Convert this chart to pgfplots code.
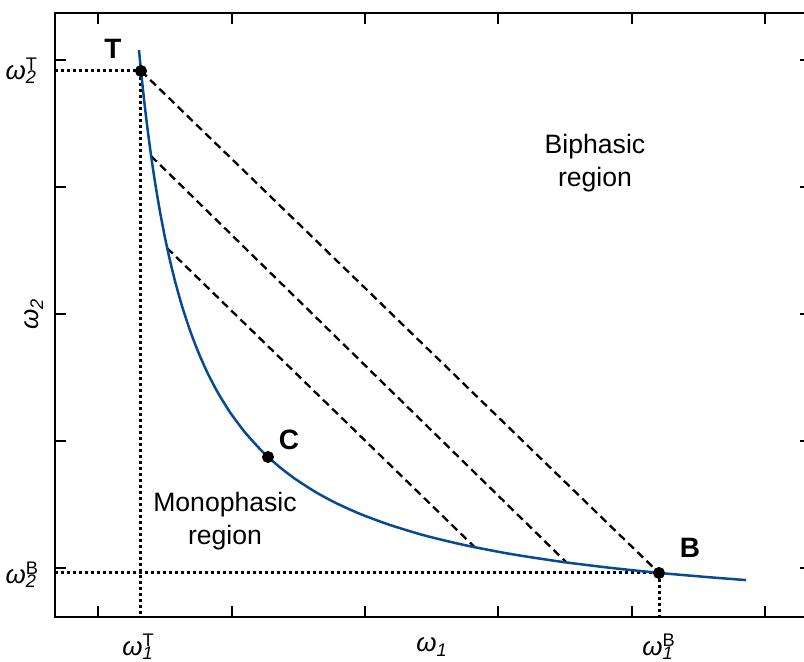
\documentclass[border=0pt]{standalone}
\usepackage{fontspec}
\setmainfont{Liberation Sans}
\usepackage{pgfplots}
\pgfplotsset{compat=1.18}
\definecolor{curveblue}{RGB}{8,74,146}
\newcommand{\om}[2]{\textit{ω}\rlap{\textsuperscript{#2}}\textsubscript{\textit{#1}}}
\begin{document}
\begin{tikzpicture}
\begin{axis}[
  x=0.5pt, y=0.5pt,
  xmin=0, xmax=756, ymin=0, ymax=604,
  axis line style={line width=1.2pt},
  xtick={43,177,310,443,577,710},
  ytick={49,176,303,430,557},
  xticklabels={}, yticklabels={},
  tick style={black, line width=1.1pt},
  major tick length=5.5pt,
  tick align=inside,
  clip=false,
  font=\fontsize{13}{15}\selectfont,
]
% dotted guides
\addplot[black, line width=1.5pt, dash pattern=on 1.4pt off 1.6pt] coordinates {(0,546) (86,546)};
\addplot[black, line width=1.5pt, dash pattern=on 1.4pt off 1.6pt] coordinates {(86,546) (86,0)};
\addplot[black, line width=1.5pt, dash pattern=on 1.4pt off 1.6pt] coordinates {(0,44) (604,44)};
\addplot[black, line width=1.5pt, dash pattern=on 1.4pt off 1.6pt] coordinates {(604,44) (604,0)};
% tie lines
\addplot[black, line width=1.15pt, dash pattern=on 4pt off 2.4pt] coordinates {(86,546) (604,44)};
\addplot[black, line width=1.15pt, dash pattern=on 4pt off 2.4pt] coordinates {(96,461) (511,55)};
\addplot[black, line width=1.15pt, dash pattern=on 4pt off 2.4pt] coordinates {(112,369) (420,69.5)};
% binodal curve
\addplot[curveblue, line width=1.25pt, smooth, tension=0.4] coordinates {
(84,567) (86,546.2) (89,517.9) (92,492.4) (96,461.9) (100,434.9) (105,405.3)
(110,379.3) (115,356.4) (120,336.0) (127,311.0) (135,286.6) (143,265.6)
(152,245.2) (162,225.9) (175,204.7) (190,184.6) (205,167.9) (213,160.1)
(225,149.6) (240,138.2) (260,125.3) (280,114.4) (305,103.1) (335,92.0)
(370,81.4) (410,71.8) (455,63.1) (505,55.4) (555,49.2) (604,44.1)
(650,40.1) (691,36.9)
};
% points
\addplot[only marks, mark=*, mark size=2.8pt, black] coordinates {(86,546) (213,160) (604,44)};
% labels
\node[font=\fontsize{14}{16}\selectfont\bfseries] at (axis cs:58,568) {T};
\node[font=\fontsize{14}{16}\selectfont\bfseries] at (axis cs:234,177) {C};
\node[font=\fontsize{14}{16}\selectfont\bfseries] at (axis cs:635,69) {B};
\node[align=center, font=\fontsize{13.3}{16.5}\selectfont] at (axis cs:540,454) {Biphasic\\region};
\node[align=center, font=\fontsize{13.3}{16.5}\selectfont] at (axis cs:170,96) {Monophasic\\region};
\node[anchor=east] at (axis cs:-11,546) {\om{2}{T}};
\node[anchor=east] at (axis cs:-11,42) {\om{2}{B}};
\node at (axis cs:83,-30) {\om{1}{T}};
\node at (axis cs:377,-30) {\textit{ω}\textsubscript{\textit{1}}};
\node at (axis cs:603,-30) {\om{1}{B}};
\node[rotate=90] at (axis cs:-21,303) {\textit{ω}\textsubscript{\textit{2}}};
\coordinate (bbl) at (axis cs:-55,-45);
\coordinate (btr) at (axis cs:749,617);
\end{axis}
\pgfresetboundingbox
\useasboundingbox (bbl) rectangle (btr);
\end{tikzpicture}
\end{document}
